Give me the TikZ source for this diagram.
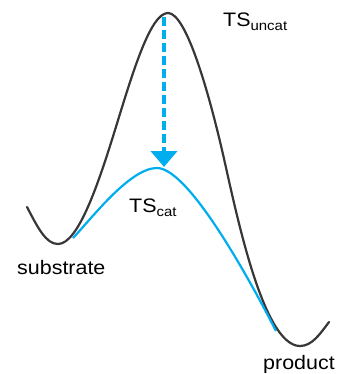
\documentclass[tikz,border=0pt]{standalone}
\usepackage{fontspec}
\setmainfont[FakeStretch=1.1]{Liberation Sans}
\usepackage{tikz}
\usetikzlibrary{arrows.meta, positioning}
\usepackage{xcolor}
\definecolor{cCurve}{RGB}{55,55,55}
\definecolor{cCat}{RGB}{0,174,239}
\newcommand{\tslabel}[1]{TS\raisebox{-4pt}{\fontsize{13.6}{15}\selectfont #1}}
\tikzset{
  uncatcurve/.style={draw=cCurve, line width=2.2pt, line cap=round},
  catcurve/.style={draw=cCat, line width=2.2pt, line cap=butt},
  lowerarrow/.style={draw=cCat, line width=4pt, dash pattern=on 9pt off 4pt,
                     -{Triangle[width=26pt, length=16pt]}},
  statelabel/.style={inner sep=0pt, anchor=base west,
                     font=\fontsize{19.5}{22}\selectfont}
}
\begin{document}
\begin{tikzpicture}[x=1pt, y=-1pt]
  \useasboundingbox (0,0) rectangle (338,374);

  \draw[uncatcurve] (27,207) .. controls (38,228) and (46,244) .. (58,244)
      .. controls (78,244) and (98,185) .. (115,130)
      .. controls (132,75) and (150,13) .. (168,13)
      .. controls (186,13) and (208,90) .. (222,150)
      .. controls (235,206) and (262,346) .. (300,346)
      .. controls (312,346) and (320,334) .. (329,322);

  \draw[catcurve] (73,238) .. controls (92,218) and (130,168) .. (157,168)
      .. controls (190,168) and (255,290) .. (276,331);

  \coordinate (peakU) at (164,17);
  \coordinate (peakC) at (164,167);
  \draw[lowerarrow] (peakU) -- (peakC);

  \node[statelabel] (tsU) at (223,27) {\tslabel{uncat}};
  \node[statelabel] (tsC) at (129,212) {\tslabel{cat}};
  \node[statelabel] (sub) at (17,274) {substrate};
  \node[statelabel] (prod) at (263,369) {product};
\end{tikzpicture}
\end{document}
